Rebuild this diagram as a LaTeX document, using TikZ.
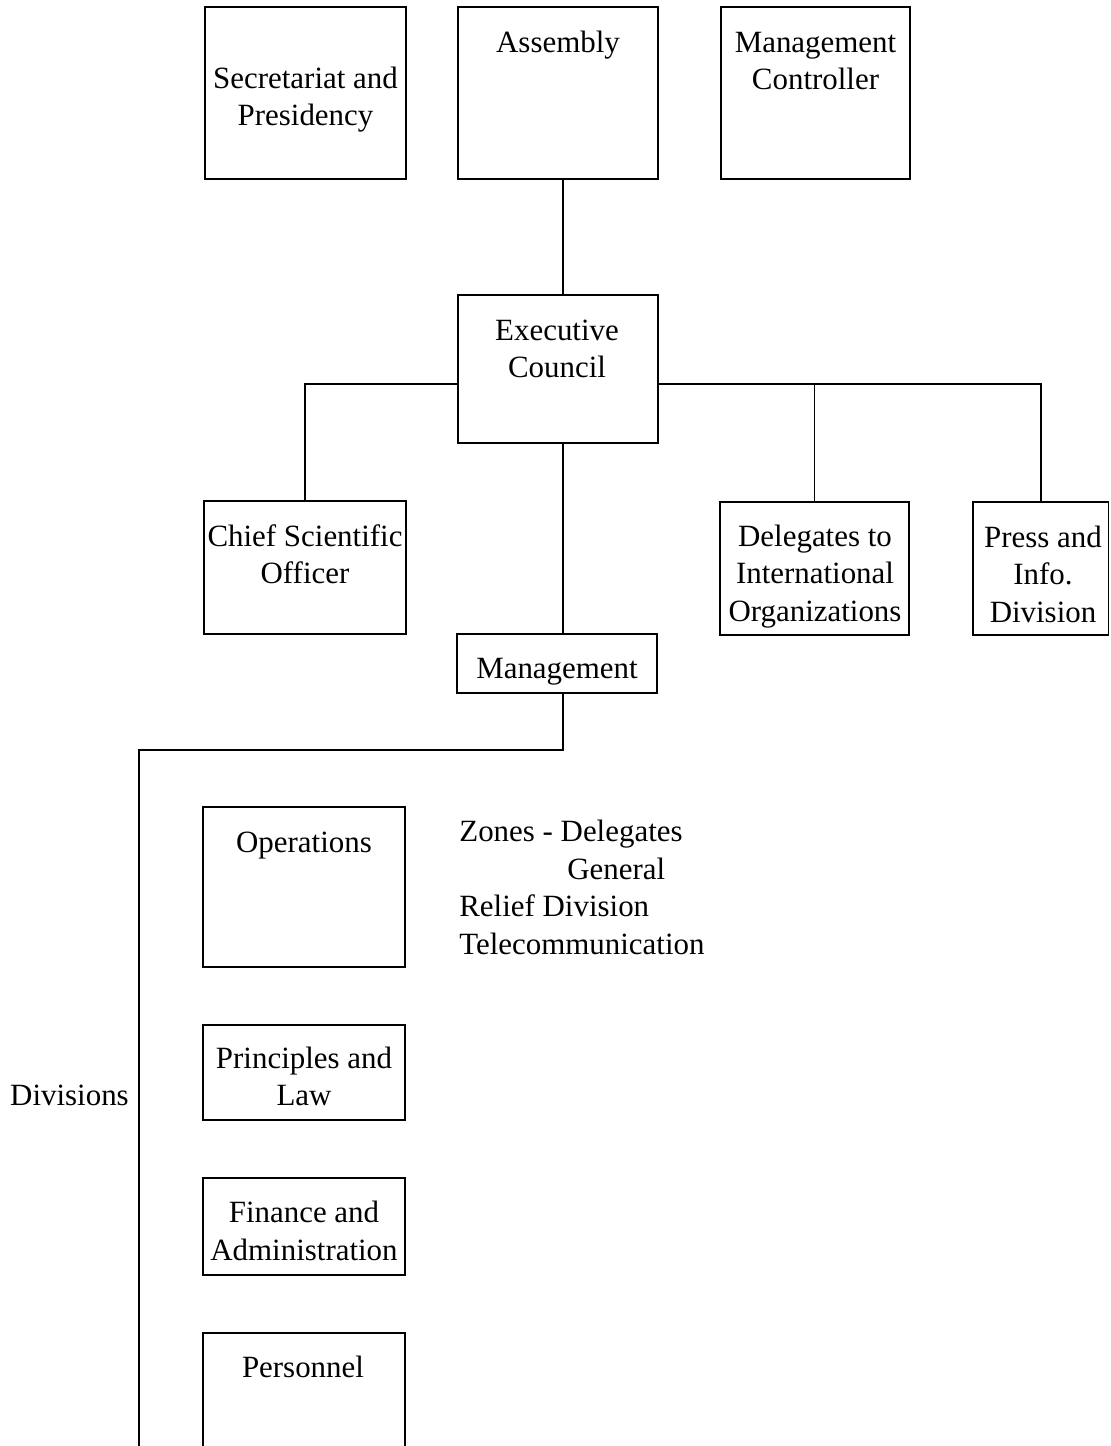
\documentclass[tikz,border=0pt]{standalone}
\usepackage{fontspec}
\setmainfont{Liberation Serif}
\begin{document}
\begin{tikzpicture}[x=0.02cm,y=-0.02cm,
  orgbox/.style={draw,line width=1.1pt,inner sep=0pt,outer sep=0pt},
  txt/.style={inner sep=0pt,align=center,font=\fontsize{17.6}{21.3}\selectfont},
  conn/.style={line width=1.1pt}]
\useasboundingbox (0,0) rectangle (1110,1446);
\clip (0,0) rectangle (1110,1446);
% boxes
\node[orgbox,minimum width=4.02cm,minimum height=3.44cm] (sec) at (305.5,93) {};
\node[orgbox,minimum width=4.00cm,minimum height=3.44cm] (asm) at (558,93) {};
\node[orgbox,minimum width=3.78cm,minimum height=3.44cm] (mc) at (815.5,93) {};
\node[orgbox,minimum width=4.00cm,minimum height=2.96cm] (ec) at (558,369) {};
\node[orgbox,minimum width=4.04cm,minimum height=2.66cm] (chief) at (305,567.5) {};
\node[orgbox,minimum width=3.78cm,minimum height=2.66cm] (dele) at (814.5,568.5) {};
\node[orgbox,minimum width=2.71cm,minimum height=2.66cm] (press) at (1040.75,568.5) {};
\node[orgbox,minimum width=4.00cm,minimum height=1.18cm] (mgmt) at (557,663.5) {};
\node[orgbox,minimum width=4.04cm,minimum height=3.20cm] (ops) at (304,887) {};
\node[orgbox,minimum width=4.04cm,minimum height=1.90cm] (pl) at (304,1072.5) {};
\node[orgbox,minimum width=4.04cm,minimum height=1.94cm] (fin) at (304,1226.5) {};
\node[orgbox,minimum width=4.04cm,minimum height=2.94cm] (pers) at (304,1406.5) {};
% texts
\node[txt] (secT) at (305.5,99.5) {Secretariat and\\Presidency};
\node[txt] (asmT) at (558,45) {Assembly};
\node[txt] (mcT) at (815.5,61) {Management\\Controller};
\node[txt] (ecT) at (557,349) {Executive\\Council};
\node[txt] (chiefT) at (305,554) {Chief Scientific\\Officer};
\node[txt] (deleT) at (815,576.5) {Delegates to\\International\\Organizations};
\node[txt] (pressT) at (1043,574) {Press and\\Info.\\Division};
\node[txt] (mgmtT) at (557,672) {Management};
\node[txt] (opsT) at (304,846) {Operations};
\node[txt,align=left,anchor=west] (zonesT) at (459,887.5) {Zones - Delegates\\\hspace*{2.16cm}General\\Relief Division\\Telecommunication};
\node[txt] (plT) at (304,1076.5) {Principles and\\Law};
\node[txt] (divT) at (69.5,1095) {Divisions};
\node[txt] (finT) at (304,1231) {Finance and\\Administration};
\node[txt] (persT) at (303,1367) {Personnel};
% connector helpers
\coordinate (tk) at (563,0);
\coordinate (hl) at (0,384);
\coordinate (bend) at (139,750);
\coordinate (divend) at (139,1480);
% connectors
\draw[conn] (asm.south -| tk) -- (ec.north -| tk);
\draw[conn] (ec.south -| tk) -- (mgmt.north -| tk);
\draw[conn] (ec.west |- hl) -| (chief.north);
\draw[conn] (ec.east |- hl) -| (press.north);
\draw[conn] (dele.north) -- (dele.north |- hl);
\draw[conn] (mgmt.south -| tk) |- (bend) -- (divend);
\end{tikzpicture}
\end{document}
